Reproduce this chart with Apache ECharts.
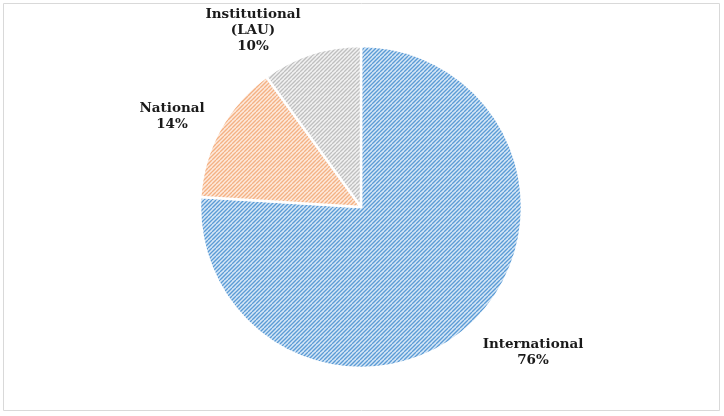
<!DOCTYPE html>
<html>
<head>
<meta charset="utf-8">
<script src="https://cdn.jsdelivr.net/npm/echarts@6/dist/echarts.min.js"></script>
<style>
  html, body { margin: 0; padding: 0; background: #fff; }
  #chart { width: 724px; height: 416px; }
</style>
</head>
<body>
<div id="chart"></div>
<script>
const names = ['International', 'National', 'Institutional\n(LAU)'];
const values = [76, 14, 10];
const lineColors = ['#5b9bd5', '#f4b183', '#bfbfbf'];
const backColors = ['#d6e7f6', '#fde9dc', '#f2f2f2'];
// where excel put each data label (centre of the text block)
const labelX = [533, 172, 253];
const labelY = [352, 116, 30];

// diagonal hatch, like the excel "wide upward diagonal" fill
function hatch(line, back) {
  const c = document.createElement('canvas');
  c.width = 8; c.height = 8;
  const ctx = c.getContext('2d');
  ctx.fillStyle = back;
  ctx.fillRect(0, 0, 8, 8);
  ctx.strokeStyle = line;
  ctx.lineWidth = 1.3;
  for (let k = -8; k <= 16; k += 4) {
    ctx.beginPath();
    ctx.moveTo(k, 8);
    ctx.lineTo(k + 8, 0);
    ctx.stroke();
  }
  return { image: c, repeat: 'repeat' };
}

const chart = echarts.init(document.getElementById('chart'));

const data = values.map((v, i) => ({
  name: names[i],
  value: v,
  itemStyle: { color: hatch(lineColors[i], backColors[i]) }
}));

chart.setOption({
  animation: false,
  graphic: [{
    type: 'rect',
    shape: { x: 3.5, y: 3.5, width: 716, height: 407 },
    style: { fill: 'none', stroke: '#d9d9d9', lineWidth: 1 }
  }],
  series: [{
    type: 'pie',
    center: [361, 207],
    radius: 161,
    startAngle: 90,
    clockwise: true,
    avoidLabelOverlap: false,
    itemStyle: { borderColor: '#fff', borderWidth: 2.5 },
    label: {
      show: true,
      position: 'outside',
      formatter: p => p.name + '\n' + p.value + '%',
      fontFamily: 'DejaVu Serif',
      fontWeight: 'bold',
      fontSize: 13.5,
      lineHeight: 16,
      color: '#1a1a1a'
    },
    labelLine: { show: false },
    labelLayout: p => ({
      x: labelX[p.dataIndex],
      y: labelY[p.dataIndex],
      align: 'center',
      verticalAlign: 'middle'
    }),
    data: data
  }]
});
</script>
</body>
</html>
